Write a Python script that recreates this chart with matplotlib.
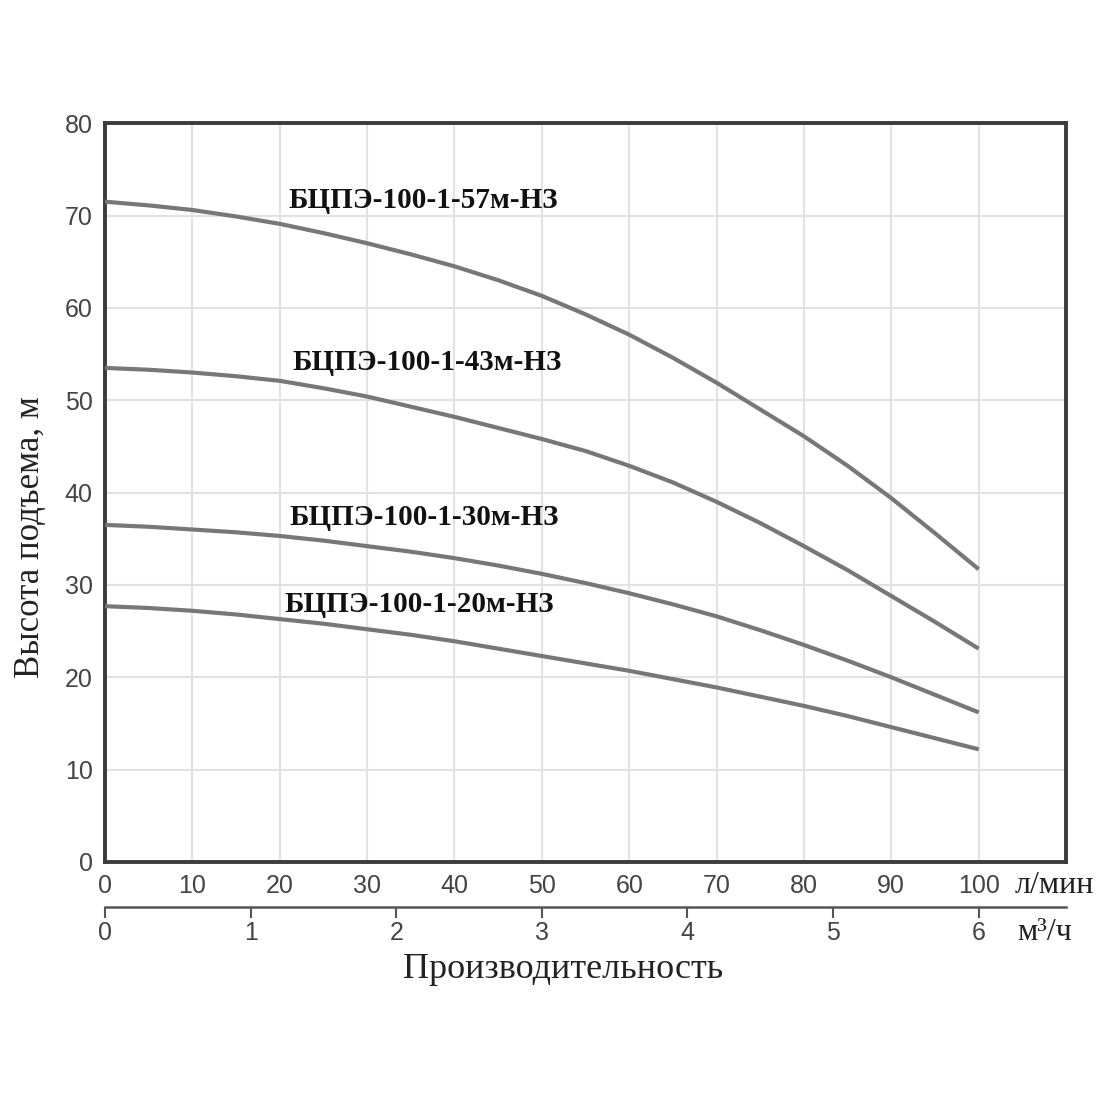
import numpy as np
import matplotlib.pyplot as plt

# подача, л/мин
q_lmin = [0, 5, 10, 15, 20, 25, 30, 35, 40, 45, 50,
          55, 60, 65, 70, 75, 80, 85, 90, 95, 100]

# напор, м
h_57 = [71.5, 71.1, 70.6, 69.9, 69.1, 68.1, 67.0, 65.8, 64.5, 63.0, 61.3,
        59.3, 57.1, 54.6, 51.9, 49.0, 46.1, 42.9, 39.4, 35.6, 31.7]
h_43 = [53.5, 53.3, 53.0, 52.6, 52.1, 51.3, 50.4, 49.3, 48.2, 47.0, 45.8,
        44.5, 42.9, 41.1, 39.0, 36.7, 34.2, 31.6, 28.8, 26.0, 23.1]
h_30 = [36.5, 36.3, 36.0, 35.7, 35.3, 34.8, 34.2, 33.6, 32.9, 32.1, 31.2,
        30.2, 29.1, 27.9, 26.6, 25.1, 23.5, 21.8, 20.0, 18.1, 16.2]
h_20 = [27.7, 27.5, 27.2, 26.8, 26.3, 25.8, 25.2, 24.6, 23.9, 23.1, 22.3,
        21.5, 20.7, 19.8, 18.9, 17.9, 16.9, 15.8, 14.6, 13.4, 12.2]

names = ['БЦПЭ-100-1-57м-НЗ', 'БЦПЭ-100-1-43м-НЗ', 'БЦПЭ-100-1-30м-НЗ', 'БЦПЭ-100-1-20м-НЗ']
label_pos = [(21.0, 71.6), (21.4, 54.1), (21.1, 37.3), (20.5, 27.9)]

serif = ['Liberation Serif', 'DejaVu Serif']
sans = ['Liberation Sans', 'DejaVu Sans']

fig = plt.figure(figsize=(11, 11), dpi=100)
ax = fig.add_axes([0.0955, 0.2164, 0.8736, 0.6716])

for h in [h_57, h_43, h_30, h_20]:
    ax.plot(q_lmin, h, color='#777777', lw=3.0, solid_capstyle='butt',
            solid_joinstyle='round', zorder=3)

for name, (lx, ly) in zip(names, label_pos):
    ax.text(lx, ly, name, family=serif, fontsize=21, fontweight='bold',
            color='#111111', ha='left', va='center', zorder=4)

ax.set_xlim(0, 110)
ax.set_ylim(0, 80)
ax.set_xticks(np.arange(0, 101, 10))
ax.set_yticks(np.arange(0, 81, 10))
ax.grid(True, color='#e2e2e2', lw=1.5)
ax.set_axisbelow(True)
for s in ax.spines.values():
    s.set_linewidth(2.8)
    s.set_color('#3c3c3c')
ax.tick_params(length=0, pad=9, labelsize=18, labelcolor='#444444')
for lab in ax.get_xticklabels() + ax.get_yticklabels():
    lab.set_family(sans)

ax.set_ylabel('Высота подъема, м', family=serif, fontsize=25, color='#222222')
ax.yaxis.set_label_coords(-0.060, 0.44)

# вторая шкала, м3/ч
ax2 = ax.secondary_xaxis(-0.061, functions=(lambda v: v * 0.06, lambda v: v / 0.06))
ax2.set_xticks(np.arange(0, 7, 1))
ax2.spines['bottom'].set_linewidth(1.8)
ax2.spines['bottom'].set_color('#555555')
ax2.tick_params(direction='out', length=8, width=1.5, color='#555555', pad=2,
                labelsize=18, labelcolor='#444444')
for lab in ax2.get_xticklabels():
    lab.set_family(sans)

fig.text(0.922, 0.195, 'л/мин', family=serif, fontsize=23, color='#222222', ha='left', va='center')
fig.text(0.925, 0.152, 'м³/ч', family=serif, fontsize=23, color='#222222', ha='left', va='center')
fig.text(0.512, 0.119, 'Производительность', family=serif, fontsize=26, color='#222222', ha='center', va='center')

fig.savefig('out.png', dpi=100, facecolor='white')
